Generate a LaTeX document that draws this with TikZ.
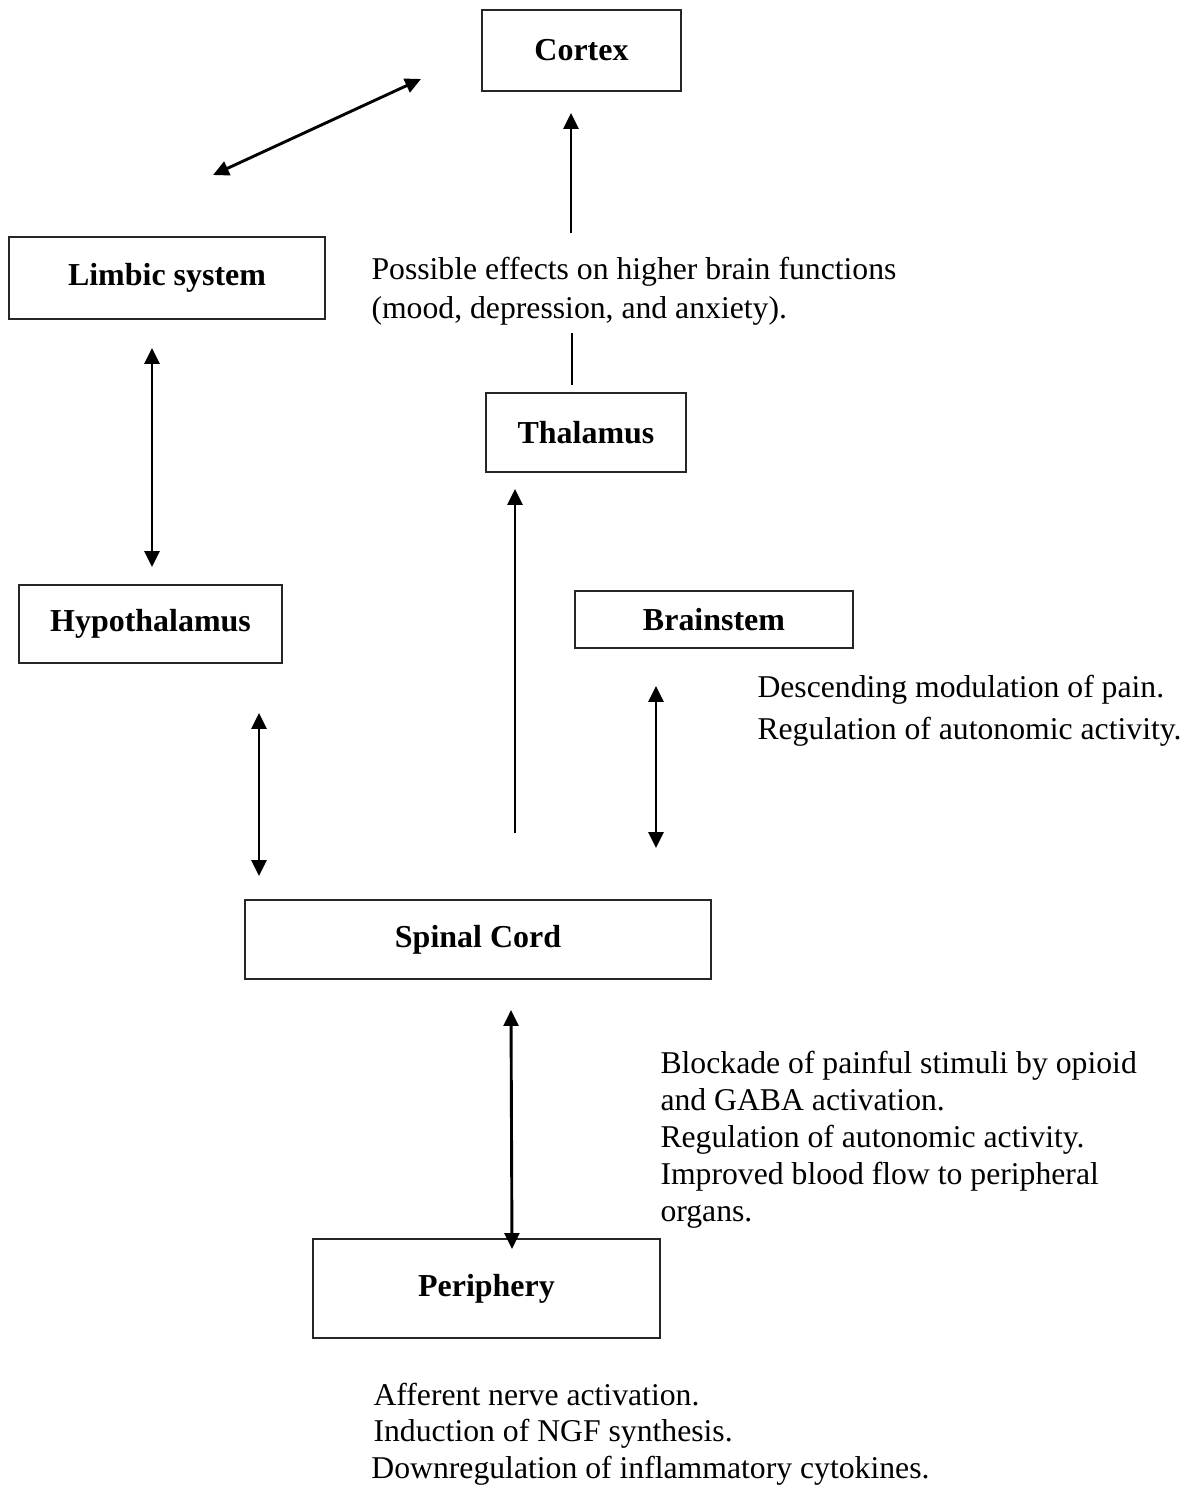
\documentclass[tikz,border=0pt]{standalone}
\usepackage{fontspec}
\setmainfont{Liberation Serif}
\usetikzlibrary{arrows.meta}
\newcommand{\unitpx}{0.3786pt}
\newcommand{\region}[6]{
	\node[box, minimum width={(#4-#2)*\unitpx}, minimum height={(#5-#3)*\unitpx}]
		(#1) at ({(#2+#4)/2},{(#3+#5)/2}) {#6};
}

\begin{document}
\begin{tikzpicture}[x=0.3786pt,y=-0.3786pt,
	box/.style={draw=black!85, line width=0.45pt, inner sep=0pt, font=\fontsize{12.1}{14}\selectfont\bfseries},
	note/.style={anchor=base west, align=left, inner sep=0pt},
	link/.style={line width=1.1pt},
	both/.style={link, {Triangle[length=6pt,width=5.6pt]}-{Triangle[length=6pt,width=5.6pt]}},
	up/.style={link, -{Triangle[length=6pt,width=5.6pt]}}]
	\useasboundingbox (0,0) rectangle (1193,1487);

	\region{cortex}{482}{10}{681}{91}{Cortex}
	\region{limbic}{9}{237}{325}{319}{Limbic system}
	\region{thalamus}{486}{393}{686}{472}{Thalamus}
	\region{hypo}{19}{585}{282}{663}{Hypothalamus}
	\region{brainstem}{575}{591}{853}{648}{Brainstem}
	\region{spinal}{245}{900}{711}{979}{Spinal Cord}
	\region{periphery}{313}{1239}{660}{1338}{Periphery}

	% notes sit on the baseline of their last line
	\node[note, font={\fontsize{12}{14.4}\selectfont}] (effects) at (371,318)
		{Possible effects on higher brain functions\\(mood, depression, and anxiety).};
	\node[note, font={\fontsize{12}{15.9}\selectfont}] (descending) at (757,739)
		{Descending modulation of pain.\\Regulation of autonomic activity.};
	\node[note, font={\fontsize{12}{14}\selectfont}] (blockade) at (660,1221)
		{Blockade of painful stimuli by opioid\\and GABA activation.\\Regulation of autonomic activity.\\Improved blood flow to peripheral\\organs.};
	\node[note, font={\fontsize{12}{13.7}\selectfont}] (afferent) at (373,1478)
		{Afferent nerve activation.\\Induction of NGF synthesis.\\\hspace*{-0.8pt}Downregulation of inflammatory cytokines.};

	% arrow ends
	\coordinate (limbicA) at (213,175);
	\coordinate (cortexA) at (421,79);
	\coordinate (cortexB) at (571,113);
	\coordinate (effectsT) at (571,233);
	\coordinate (effectsB) at (572,333);
	\coordinate (thalamusT) at (572,385);
	\coordinate (limbicB) at (152,348);
	\coordinate (hypoT) at (152,567);
	\coordinate (hypoB) at (259,713);
	\coordinate (spinalL) at (259,876);
	\coordinate (spinalM) at (515,833);
	\coordinate (thalamusB) at (515,489);
	\coordinate (brainstemB) at (656,686);
	\coordinate (spinalR) at (656,848);
	\coordinate (spinalB) at (511,1010);
	\coordinate (peripheryT) at (512,1249);

	\draw[both] (limbicA) -- (cortexA);
	\draw[up] (effectsT) -- (cortexB);
	\draw[link] (thalamusT) -- (effectsB);
	\draw[both] (limbicB) -- (hypoT);
	\draw[both] (hypoB) -- (spinalL);
	\draw[up] (spinalM) -- (thalamusB);
	\draw[both] (brainstemB) -- (spinalR);
	\draw[both] (spinalB) -- (peripheryT);
\end{tikzpicture}
\end{document}
